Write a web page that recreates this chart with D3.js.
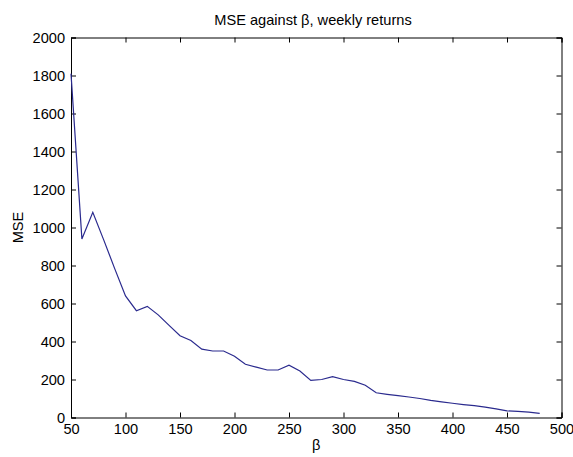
<!DOCTYPE html>
<html>
<head>
<meta charset="utf-8">
<script src="https://cdn.jsdelivr.net/npm/d3@7"></script>
<style>
  html, body { margin: 0; padding: 0; background: #fff; }
  svg { display: block; }
  text { font-family: "Liberation Sans", Arial, Helvetica, sans-serif; fill: #000; }
</style>
</head>
<body>
<svg id="chart" width="573" height="457"></svg>
<script>
// beta values (window length) and corresponding mean squared error
const betaValues = [50, 60, 70, 80, 90, 100, 110, 120, 130, 140, 150, 160, 170, 180, 190,
  200, 210, 220, 230, 240, 250, 260, 270, 280, 290, 300, 310, 320, 330, 340, 350,
  360, 370, 380, 390, 400, 410, 420, 430, 440, 450, 460, 470, 480];
const mseValues = [1810, 940, 1080, 935, 785, 640, 562, 585, 540, 485, 430, 405, 360, 350, 350,
  322, 280, 265, 250, 250, 275, 245, 195, 200, 215, 200, 190, 170, 130, 122, 115,
  108, 100, 90, 82, 75, 68, 62, 55, 45, 35, 32, 28, 22];
const xTicks = [50, 100, 150, 200, 250, 300, 350, 400, 450, 500];
const yTicks = [0, 200, 400, 600, 800, 1000, 1200, 1400, 1600, 1800, 2000];

const titleText = "MSE against \u03b2, weekly returns";
const xLabel = "\u03b2";
const yLabel = "MSE";

const svg = d3.select("#chart");
const plotL = 71, plotR = 561.5, plotT = 37.5, plotB = 417.5;

const x = d3.scaleLinear().domain([50, 500]).range([plotL, plotR]);
const y = d3.scaleLinear().domain([0, 2000]).range([plotB, plotT]);

const fontSize = 14.6;
const tickLen = 5;

// axes: labelled bottom/left, unlabelled mirrored top/right, ticks pointing inward
svg.append("g")
  .attr("transform", `translate(0,${plotB})`)
  .call(d3.axisBottom(x).tickValues(xTicks).tickSize(-tickLen).tickPadding(6).tickFormat(d3.format("d")))
  .call(g => g.selectAll("text").style("font-size", fontSize + "px").attr("fill", "#000"));

svg.append("g")
  .attr("transform", `translate(${plotL},0)`)
  .call(d3.axisLeft(y).tickValues(yTicks).tickSize(-tickLen).tickPadding(6).tickFormat(d3.format("d")))
  .call(g => g.selectAll("text").style("font-size", fontSize + "px").attr("fill", "#000"));

svg.append("g")
  .attr("transform", `translate(0,${plotT})`)
  .call(d3.axisTop(x).tickValues(xTicks).tickSize(-tickLen).tickFormat(""));

svg.append("g")
  .attr("transform", `translate(${plotR},0)`)
  .call(d3.axisRight(y).tickValues(yTicks).tickSize(-tickLen).tickFormat(""));

svg.selectAll(".domain").attr("stroke", "#000").attr("stroke-width", 1);
svg.selectAll(".tick line").attr("stroke", "#000").attr("stroke-width", 1);

// data line
const pts = betaValues.map((b, i) => [b, mseValues[i]]);
svg.append("path")
  .datum(pts)
  .attr("fill", "none")
  .attr("stroke", "#2a2a8e")
  .attr("stroke-width", 1.2)
  .attr("d", d3.line().x(d => x(d[0])).y(d => y(d[1])));

// title and axis labels
svg.append("text")
  .attr("x", 313).attr("y", 25)
  .attr("text-anchor", "middle")
  .style("font-size", fontSize + "px")
  .text(titleText);

svg.append("text")
  .attr("x", (plotL + plotR) / 2).attr("y", 450)
  .attr("text-anchor", "middle")
  .style("font-size", fontSize + "px")
  .text(xLabel);

svg.append("text")
  .attr("transform", `translate(23,${(plotT + plotB) / 2}) rotate(-90)`)
  .attr("text-anchor", "middle")
  .style("font-size", fontSize + "px")
  .text(yLabel);
</script>
</body>
</html>
